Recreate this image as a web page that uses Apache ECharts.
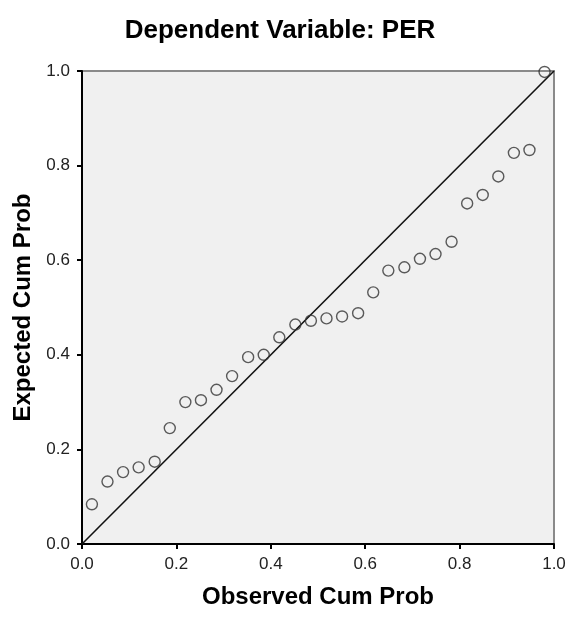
<!DOCTYPE html>
<html>
<head>
<meta charset="utf-8">
<script src="https://cdn.jsdelivr.net/npm/echarts@6/dist/echarts.min.js"></script>
<style>
  html, body { margin: 0; padding: 0; background: #fff; }
  #chart { width: 570px; height: 619px; }
</style>
</head>
<body>
<div id="chart"></div>
<script>
// observed vs expected cumulative probability
const observed = [
  0.021, 0.054, 0.087, 0.120, 0.154, 0.186, 0.219, 0.252, 0.285, 0.318,
  0.352, 0.385, 0.418, 0.452, 0.485, 0.518, 0.551, 0.585, 0.617, 0.649,
  0.683, 0.716, 0.749, 0.783, 0.816, 0.849, 0.882, 0.915, 0.948, 0.980
];
const expected = [
  0.084, 0.132, 0.152, 0.162, 0.174, 0.245, 0.300, 0.304, 0.326, 0.355,
  0.395, 0.400, 0.437, 0.464, 0.472, 0.477, 0.481, 0.488, 0.532, 0.578,
  0.585, 0.603, 0.613, 0.639, 0.720, 0.738, 0.777, 0.827, 0.833, 0.998
];
const refLine = [[0, 0], [1, 1]];
const tickStep = 0.2;

const chart = echarts.init(document.getElementById('chart'));

const axisCommon = {
  type: 'value',
  min: 0,
  max: 1,
  interval: tickStep,
  nameLocation: 'middle',
  nameTextStyle: {
    fontFamily: 'Liberation Sans',
    fontWeight: 'bold',
    fontSize: 24,
    color: '#000'
  },
  axisLine: { show: true, lineStyle: { color: '#000', width: 2 } },
  axisTick: { show: true, length: 5, lineStyle: { color: '#000', width: 2 } },
  axisLabel: {
    fontFamily: 'Liberation Sans',
    fontSize: 17,
    color: '#222',
    formatter: (v) => v.toFixed(1)
  },
  splitLine: { show: false }
};

chart.setOption({
  animation: false,
  title: {
    text: 'Dependent Variable: PER',
    left: 275,
    top: 13,
    textAlign: 'center',
    textStyle: {
      fontFamily: 'Liberation Sans',
      fontWeight: 'bold',
      fontSize: 26,
      color: '#000'
    }
  },
  grid: {
    left: 82,
    top: 71,
    width: 472,
    height: 473,
    outerBoundsMode: 'none',
    containLabel: false,
    show: true,
    backgroundColor: '#f0f0f0',
    borderColor: '#8a8a8a',
    borderWidth: 2
  },
  xAxis: Object.assign({}, axisCommon, {
    name: 'Observed Cum Prob',
    nameGap: 41,
    axisLabel: Object.assign({}, axisCommon.axisLabel, { margin: 12 })
  }),
  yAxis: Object.assign({}, axisCommon, {
    name: 'Expected Cum Prob',
    nameGap: 46,
    axisLabel: Object.assign({}, axisCommon.axisLabel, { margin: 12 })
  }),
  series: [
    {
      type: 'line',
      data: refLine,
      symbol: 'none',
      lineStyle: { color: '#111', width: 1.6 },
      z: 2
    },
    {
      type: 'scatter',
      data: observed.map((x, i) => [x, expected[i]]),
      symbol: 'circle',
      symbolSize: 11,
      itemStyle: {
        color: 'rgba(0,0,0,0)',
        borderColor: '#333',
        borderWidth: 1.4
      },
      z: 3
    }
  ]
});
</script>
</body>
</html>
